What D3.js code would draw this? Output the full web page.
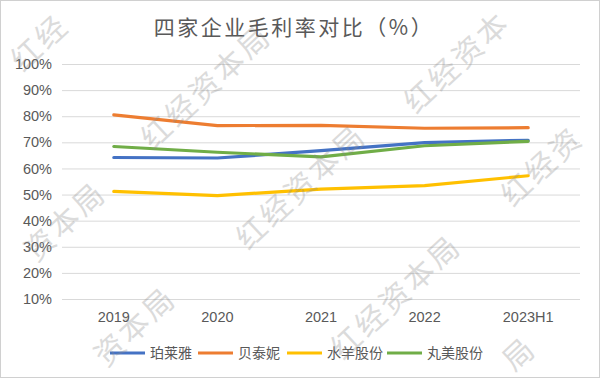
<!DOCTYPE html>
<html>
<head>
<meta charset="utf-8">
<script src="https://cdn.jsdelivr.net/npm/d3@7"></script>
<style>
  body { margin: 0; background: #fff; }
  svg { display: block; font-family: "Noto Sans CJK SC", "Liberation Sans", sans-serif; }
</style>
</head>
<body>
<div id="chart"></div>
<script>
// chart data
var years = [ "2019", "2020", "2021", "2022", "2023H1" ];
var seriesNames = [ "珀莱雅", "贝泰妮", "水羊股份", "丸美股份" ];
var proya = [ 64.2, 64.0, 66.8, 69.9, 70.8 ];
var botanee = [ 80.5, 76.4, 76.5, 75.4, 75.6 ];
var yujiahui = [ 51.2, 49.6, 52.1, 53.4, 57.2 ];
var marubi = [ 68.4, 66.2, 64.4, 68.7, 70.4 ];
var yTicks = [ 10, 20, 30, 40, 50, 60, 70, 80, 90, 100 ];
var colors = [ "#4472C4", "#ED7D31", "#FFC000", "#70AD47" ];
var watermarkText = "红经资本局";
var watermarkSpots = [ [ 75, 10 ], [ 205, 88 ], [ 40, 245 ], [ 300, 188 ], [ 110, 350 ], [ 468, 52 ], [ 565, 145 ], [ 395, 298 ], [ 470, 400 ] ];

var series = [ proya, botanee, yujiahui, marubi ];

var W = 600, H = 378;
var margin = { top: 64, right: 20, bottom: 79, left: 62 },
	width = W - margin.left - margin.right,
	height = H - margin.top - margin.bottom;

var svg = d3.select( "#chart" )
	.append( "svg" )
	.attr( "width", W )
	.attr( "height", H );

// frame
svg.append( "rect" )
	.attr( "x", 0.5 ).attr( "y", 0.5 )
	.attr( "width", W - 1 ).attr( "height", H - 1 )
	.attr( "fill", "#fff" )
	.attr( "stroke", "#d0d0d0" );

var x = d3.scaleBand()
	.domain( years )
	.range( [ 0, width ] );

var y = d3.scaleLinear()
	.domain( [ 10, 100 ] )
	.range( [ height, 0 ] );

var g = svg.append( "g" )
	.attr( "transform", "translate(" + margin.left + "," + margin.top + ")" );

// gridlines + y labels
var yAxis = d3.axisLeft( y )
	.tickValues( yTicks )
	.tickSize( -width )
	.tickPadding( 10 )
	.tickFormat( function( d ) { return d + "%"; } );

var yg = g.append( "g" )
	.attr( "class", "y axis" )
	.call( yAxis );
yg.select( ".domain" ).remove();
yg.selectAll( "line" ).attr( "stroke", "#d9d9d9" ).attr( "stroke-width", 1 );
yg.selectAll( "text" )
	.attr( "fill", "#595959" )
	.style( "font-family", "'Liberation Sans', Arial, sans-serif" )
	.style( "font-size", "14.5px" );

// x axis labels
var xAxis = d3.axisBottom( x ).tickSize( 0 ).tickPadding( 13 );
var xg = g.append( "g" )
	.attr( "class", "x axis" )
	.attr( "transform", "translate(0," + height + ")" )
	.call( xAxis );
xg.select( ".domain" ).remove();
xg.selectAll( "text" )
	.attr( "fill", "#595959" )
	.style( "font-family", "'Liberation Sans', Arial, sans-serif" )
	.style( "font-size", "14.5px" );

// lines
var line = d3.line()
	.x( function( d, i ) { return x( years[ i ] ) + x.bandwidth() / 2; } )
	.y( function( d ) { return y( d ); } );

g.selectAll( ".series" )
	.data( series )
	.enter()
	.append( "path" )
	.attr( "class", "series" )
	.attr( "d", line )
	.attr( "fill", "none" )
	.attr( "stroke", function( d, i ) { return colors[ i ]; } )
	.attr( "stroke-width", 3.2 )
	.attr( "stroke-linejoin", "round" )
	.attr( "stroke-linecap", "round" );

// title
svg.append( "text" )
	.attr( "x", 294 )
	.attr( "y", 35 )
	.attr( "text-anchor", "middle" )
	.attr( "fill", "#595959" )
	.style( "font-size", "21px" )
	.style( "letter-spacing", "2.5px" )
	.text( "四家企业毛利率对比（%）" );

// legend
var legendX = [ 110, 198, 287, 387 ];
var lg = svg.selectAll( ".legend" )
	.data( seriesNames )
	.enter()
	.append( "g" )
	.attr( "class", "legend" )
	.attr( "transform", function( d, i ) { return "translate(" + legendX[ i ] + ",353)"; } );
lg.append( "line" )
	.attr( "x1", 0 ).attr( "x2", 35 )
	.attr( "stroke", function( d, i ) { return colors[ i ]; } )
	.attr( "stroke-width", 3.2 );
lg.append( "text" )
	.attr( "x", 40 )
	.attr( "dy", "0.36em" )
	.attr( "fill", "#595959" )
	.style( "font-size", "14px" )
	.text( function( d ) { return d; } );

// watermarks, one glyph at a time so that glyphs off the canvas are dropped
var ang = 43 * Math.PI / 180, step = 33, pad = 22;
var glyphs = [];
watermarkSpots.forEach( function( p ) {
	watermarkText.split( "" ).forEach( function( ch, k ) {
		var cx = p[ 0 ] + ( k - 2 ) * step * Math.cos( ang ),
			cy = p[ 1 ] - ( k - 2 ) * step * Math.sin( ang );
		if( cx > pad && cx < W - pad && cy > pad + 4 && cy < H - pad ) glyphs.push( { ch: ch, x: cx, y: cy } );
	} );
} );
svg.selectAll( ".wm" )
	.data( glyphs )
	.enter()
	.append( "text" )
	.attr( "class", "wm" )
	.attr( "transform", function( d ) { return "translate(" + d.x + "," + d.y + ") rotate(-43)"; } )
	.attr( "text-anchor", "middle" )
	.attr( "dy", "0.35em" )
	.attr( "fill", "#8a8a8a" )
	.attr( "opacity", 0.3 )
	.style( "font-size", "30px" )
	.text( function( d ) { return d.ch; } );
</script>
</body>
</html>
